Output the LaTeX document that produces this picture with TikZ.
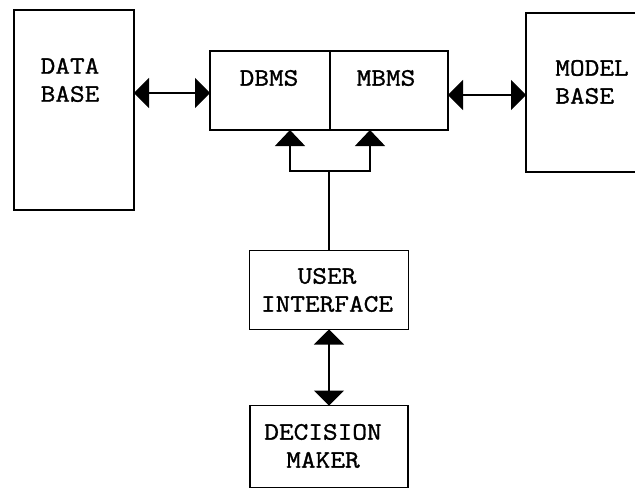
\documentclass[tikz,border=0pt]{standalone}
\usepackage{fontspec}
\setmonofont[FakeStretch=1.14,FakeBold=1.2]{Latin Modern Mono}
\usetikzlibrary{arrows.meta}
\begin{document}
\begin{tikzpicture}[x=1pt,y=-1pt,
  box/.style={draw, line width=1.8pt, inner sep=0pt, outer sep=0pt},
  lbl/.style={font=\ttfamily\fontsize{25}{28}\selectfont, inner sep=0pt},
  conn/.style={line width=1.1pt},
  bigtip/.style={{Triangle[length=15pt,width=30pt]}-{Triangle[length=15pt,width=30pt]}},
  uptip/.style={-{Triangle[length=16pt,width=30pt]}}]
\useasboundingbox (0,0) rectangle (635,490);
% boxes
\node[box, minimum width=120pt, minimum height=200pt] (db) at (74,110) {};
\node[box, minimum width=120pt, minimum height=79pt] (dbms) at (270,90.5) {};
\node[box, minimum width=118pt, minimum height=79pt] (mbms) at (389,90.5) {};
\node[box, minimum width=120pt, minimum height=159pt] (mb) at (586,92.5) {};
\node[box, minimum width=159pt, minimum height=79pt] (ui) at (329,290) {};
\node[box, minimum width=158pt, minimum height=82pt] (dm) at (329,446.5) {};
% labels
\node[lbl, align=left] (dbt) at (70,80) {DATA\\BASE};
\node[lbl] (dbmst) at (269,78) {DBMS};
\node[lbl] (mbmst) at (386,78) {MBMS};
\node[lbl, align=left] (mbt) at (592,82) {MODEL\\BASE};
\node[lbl, align=center] (uit) at (327,290) {USER\\INTERFACE};
\node[lbl, align=center] (dmt) at (323,446) {DECISION\\MAKER};
% connectors
\coordinate (j) at (329,171);
\coordinate (jl) at (290,171);
\coordinate (jr) at (370,171);
\draw[conn, bigtip] (db.east |- 0,93) -- (dbms.west |- 0,93);
\draw[conn, bigtip] (mbms.east |- 0,95) -- (mb.west |- 0,95);
\draw[conn] (ui.north) -- (j);
\draw[conn, uptip] (j) -- (jl) -- (jl |- dbms.south);
\draw[conn, uptip] (j) -- (jr) -- (jr |- mbms.south);
\draw[conn, bigtip] (ui.south) -- (dm.north);
\end{tikzpicture}
\end{document}
